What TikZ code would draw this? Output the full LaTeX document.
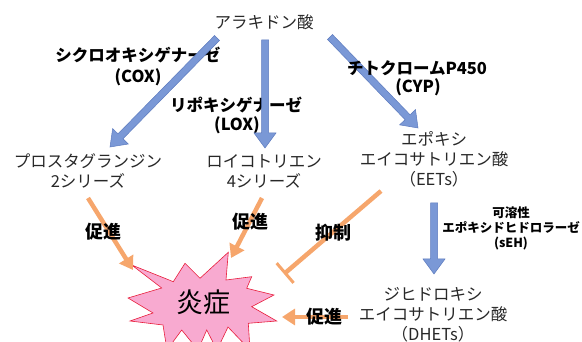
\documentclass[tikz,border=0pt]{standalone}
\usepackage{fontspec}
\setmainfont{Noto Sans CJK JP}
\usetikzlibrary{arrows.meta,calc}
\definecolor{blueA}{RGB}{122,152,214}
\definecolor{blueB}{RGB}{92,122,190}
\definecolor{orangeA}{RGB}{246,166,108}
\definecolor{pinkA}{RGB}{248,170,208}
\definecolor{redA}{RGB}{232,30,60}
\definecolor{txt}{RGB}{40,40,40}
\tikzset{
  lbl/.style={inner sep=0pt, text=txt, font=\fontsize{16.5}{20}\selectfont, align=center},
  enz/.style={inner sep=0pt, text=black, font=\fontsize{16.5}{20}\selectfont\bfseries, align=center},
  small/.style={inner sep=0pt, text=black, font=\fontsize{12.5}{15}\selectfont\bfseries, align=center},
  act/.style={inner sep=0pt, text=black, font=\fontsize{18}{20}\selectfont\bfseries},
  promote/.style={draw=orangeA, line width=4.5pt, -{Triangle[length=13pt,width=16pt]}},
  inhibit/.style={draw=orangeA, line width=4.5pt, -{Bar[width=26pt,line width=3pt]}},
}
\newcommand{\blockarrow}[2]{%
  \path ($(#2)!15pt!(#1)$) coordinate (hb);
  \filldraw[fill=blueA, draw=blueB, line width=0.5pt]
    ($(#1)!3.5pt!90:(#2)$) -- ($(hb)!3.5pt!90:(#2)$) -- ($(hb)!11pt!90:(#2)$) -- (#2)
    -- ($(hb)!11pt!-90:(#2)$) -- ($(hb)!3.5pt!-90:(#2)$) -- ($(#1)!3.5pt!-90:(#2)$) -- cycle;
}
\begin{document}
\begin{tikzpicture}[x=1pt,y=-1pt]
\useasboundingbox (0,0) rectangle (582,342);
% inflammation burst
\filldraw[fill=pinkA, draw=redA, line width=0.6pt, line join=miter]
 (131.7,265) -- (173.3,281.7) -- (185,263.3) -- (200,278.3) -- (228.3,252.3)
 -- (226,280) -- (251.7,276.7) -- (246.7,288.3) -- (274,295) -- (251.7,306.7)
 -- (276.7,321) -- (248.3,323.3) -- (250,350) -- (228,327) -- (217,350)
 -- (206.7,330) -- (198,350) -- (181.7,330) -- (167,350) -- (163,325)
 -- (130,321) -- (153,313) -- (128,298) -- (161.7,288) -- cycle;
\node[inner sep=0pt, text=black, font=\fontsize{27}{30}\selectfont] (enso) at (203,302) {炎症};

% text nodes
\node[lbl] (ara) at (264,22) {アラキドン酸};
\node[enz] (cox) at (138,55) {シクロオキシゲナーゼ};
\node[enz] (coxab) at (138,77) {(COX)};
\node[enz] (lox) at (236,105) {リポキシゲナーゼ};
\node[enz] (loxab) at (237,125) {(LOX)};
\node[lbl] (pg) at (88,171) {プロスタグランジン\\2シリーズ};
\node[lbl] (lt) at (264,171) {ロイコトリエン\\4シリーズ};
\node[lbl] (eet) at (434,159) {エポキシ\\エイコサトリエン酸\\（EETs）};
\node[lbl] (dhet) at (433,315) {ジヒドロキシ\\エイコサトリエン酸\\（DHETs）};
\node[small] (seh) at (511,228) {可溶性\\エポキシドヒドロラーゼ\\(sEH)};

% blue arrows
\coordinate (c1s) at (217,38);  \coordinate (c1e) at (110,147);
\coordinate (c2s) at (265,40);  \coordinate (c2e) at (265,148);
\coordinate (c3s) at (330,37);  \coordinate (c3e) at (418,128);
\coordinate (c4s) at (434,203); \coordinate (c4e) at (434,274);
\blockarrow{c1s}{c1e}
\blockarrow{c2s}{c2e}
\blockarrow{c3s}{c3e}
\blockarrow{c4s}{c4e}
\node[enz] (cyp) at (417,68) {チトクロームP450};
\node[enz] (cypab) at (418,87) {(CYP)};

% orange arrows
\coordinate (o1s) at (88,198);  \coordinate (o1e) at (133,270);
\coordinate (o2s) at (262,198); \coordinate (o2e) at (231,258);
\coordinate (o3s) at (381,191); \coordinate (o3e) at (284,274);
\coordinate (o4s) at (348,317); \coordinate (o4e) at (282,317);
\draw[promote] (o1s) -- (o1e);
\draw[promote] (o2s) -- (o2e);
\draw[inhibit] (o3s) -- (o3e);
\draw[promote] (o4s) -- (o4e);
\node[act] (p1) at (103,232) {促進};
\node[act] (p2) at (250,222) {促進};
\node[act] (inh) at (333,233) {抑制};
\node[act] (p3) at (324,317) {促進};
\end{tikzpicture}
\end{document}
